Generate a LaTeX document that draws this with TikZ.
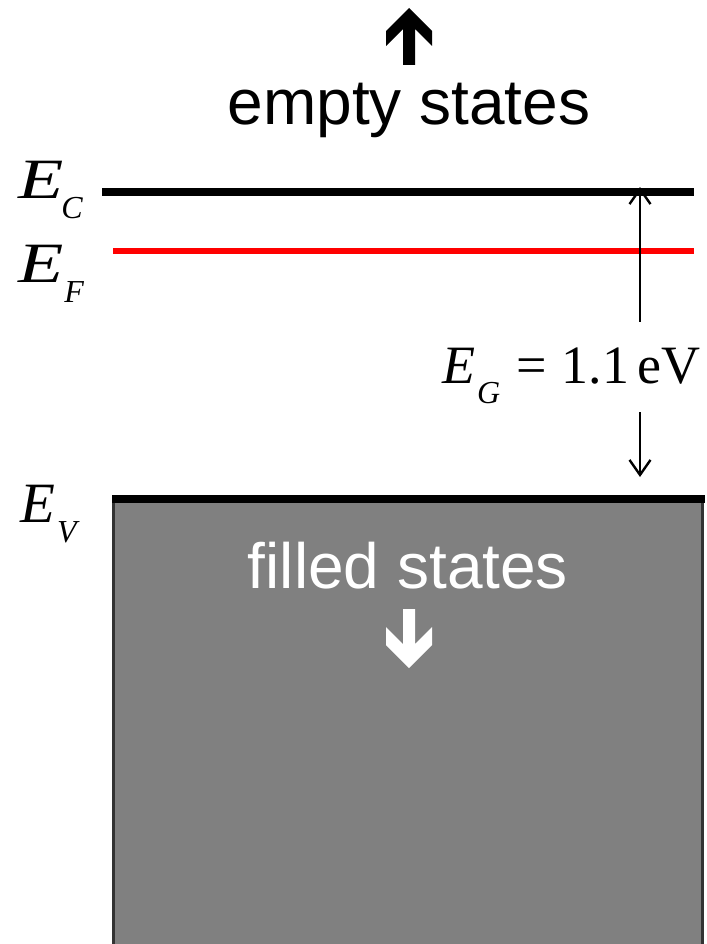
\documentclass[tikz,border=0pt]{standalone}
\usepackage{fontspec}
\setmainfont{Liberation Serif}
\newfontfamily\sansfont{Liberation Sans}
\usetikzlibrary{arrows.meta}
\definecolor{bandgray}{RGB}{128,128,128}
\newcommand{\esub}[2][0pt]{\kern#1\raisebox{-20pt}{\fontsize{32}{32}\selectfont\itshape #2}}
\newcommand{\wideE}{\scalebox{1.3}[1]{E}}
\begin{document}
\begin{tikzpicture}[x=1pt,y=-1pt,
  elabel/.style={anchor=base west,inner sep=0pt,font=\fontsize{57}{57}\selectfont\itshape},
  statetext/.style={anchor=base,inner sep=0pt,font=\sansfont\fontsize{64}{64}\selectfont},
  level/.style={line width=8pt},
  gaparrow/.style={line width=2.4pt,-{Straight Barb[length=15pt,width=21pt]}}]

\useasboundingbox (0,0) rectangle (706,944);

% Filled band
\filldraw[fill=bandgray,draw=black!80,line width=3pt] (113,499) rectangle (702,948);

% Levels
\draw[level] (102,192) -- (694,192);
\draw[level,red,line width=6pt] (113,251) -- (694,251);
\draw[level] (112,499) -- (705,499);

% Labels
\node[elabel] (ec) at (18,198) {\wideE\esub[-2pt]{C}};
\node[elabel] (ef) at (18,282) {\wideE\esub[1pt]{F}};
\node[elabel] (ev) at (20,522) {E\esub[2pt]{V}};

% Gap
\coordinate (egtop) at (640,187);
\coordinate (egbot) at (640,477);
\node[elabel,font=\fontsize{54}{54}\selectfont,text height=40pt,text depth=24pt] (eg) at (442,383)
  {\textit{E}\esub[2pt]{G}\hspace{16pt}=\hspace{15pt}1.1\hspace{8pt}eV};
\draw[gaparrow] ([yshift=21pt]eg.north -| egtop) -- (egtop);
\draw[gaparrow] ([yshift=-5pt]eg.south -| egbot) -- (egbot);

% States
\node[statetext] (empty) at (409,125) {empty states};
\node[statetext,white] (filled) at (408,588) {filled states};
\fill (409,8) -- (432,31) -- (432,46) -- (415,29) -- (415,65) -- (403,65) -- (403,29) -- (386,46) -- (386,31) -- cycle;
\fill[white] (403,609) -- (415,609) -- (415,644) -- (432,627) -- (432,645) -- (409,668) -- (386,645) -- (386,627) -- (403,644) -- cycle;

\end{tikzpicture}
\end{document}
